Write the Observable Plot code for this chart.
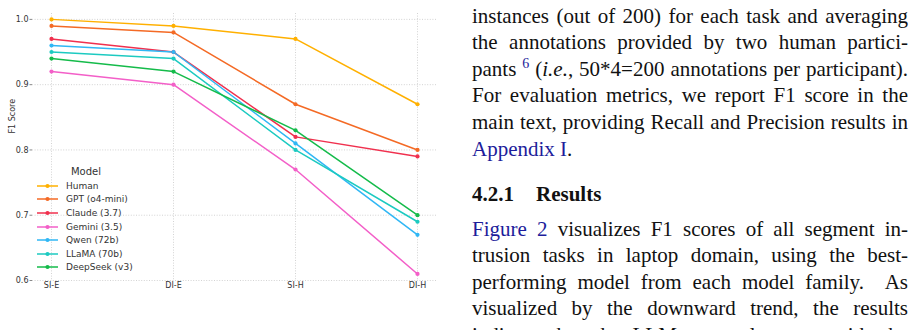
<!DOCTYPE html>
<html>
<head>
<meta charset="utf-8">
<script src="https://cdn.jsdelivr.net/npm/d3@7"></script>
<script src="https://cdn.jsdelivr.net/npm/@observablehq/plot@0.6"></script>
<style>
  html, body { margin: 0; padding: 0; background: #fff; }
  #page { position: relative; width: 917px; height: 330px; overflow: hidden; background: #fff; }
  #chart { position: absolute; left: 0; top: 0; }
  #legend { position: absolute; left: 36px; top: 165px; font-family: "DejaVu Sans", sans-serif; color: #333; }
  #legend .title { font-size: 10px; text-align: center; height: 14px; line-height: 14px; width: 100px; }
  #legend .row { display: flex; align-items: center; height: 13.6px; font-size: 9px; }
  #legend svg { margin-right: 7px; }
  .txt { position: absolute; left: 472px; width: 436px; font-family: "Liberation Serif", "Times New Roman", serif;
         font-size: 21px; line-height: 26.6px; color: #111; white-space: nowrap; }
  .just { text-align: justify; text-align-last: justify; white-space: normal; }
  .blue { color: #1d1d9b; }
  .sup { font-size: 14px; position: relative; top: -8px; }
  .head { font-weight: bold; }
</style>
</head>
<body>
<div id="page">
  <div id="chart"></div>
  <div id="legend"></div>

  <div class="txt just" style="top:2.6px">instances (out of 200) for each task and averaging</div>
  <div class="txt just" style="top:29.2px">the annotations provided by two human partici-</div>
  <div class="txt just" style="top:55.8px">pants <span class="sup blue">6</span> (<i>i.e.</i>, 50*4=200 annotations per participant).</div>
  <div class="txt just" style="top:82.4px">For evaluation metrics, we report F1 score in the</div>
  <div class="txt just" style="top:109px">main text, providing Recall and Precision results in</div>
  <div class="txt" style="top:135.6px"><span class="blue">Appendix I</span>.</div>

  <div class="txt head" style="top:181.3px">4.2.1<span style="display:inline-block;width:22px"></span>Results</div>

  <div class="txt just" style="top:215.6px"><span class="blue">Figure 2</span> visualizes F1 scores of all segment in-</div>
  <div class="txt just" style="top:242.2px">trusion tasks in laptop domain, using the best-</div>
  <div class="txt just" style="top:268.8px">performing model from each model family.&nbsp; As</div>
  <div class="txt just" style="top:295.4px">visualized by the downward trend, the results</div>
  <div class="txt just" style="top:322px">indicate that the LLMs struggle more with the</div>
</div>

<script>
// Segment-intrusion tasks along the x axis
const tasks = ["SI-E", "DI-E", "SI-H", "DI-H"];

// Model families (legend order) and their colours
const models = ["Human", "GPT (o4-mini)", "Claude (3.7)", "Gemini (3.5)", "Qwen (72b)", "LLaMA (70b)", "DeepSeek (v3)"];
const colors = ["#ffb000", "#f46a25", "#f0304e", "#f35fc8", "#30b7f5", "#1ccac1", "#14bb4a"];

// F1 score per task, one array per model
const human    = [1.00, 0.99, 0.97, 0.87];
const gpt      = [0.99, 0.98, 0.87, 0.80];
const claude   = [0.97, 0.95, 0.82, 0.79];
const gemini   = [0.92, 0.90, 0.77, 0.61];
const qwen     = [0.96, 0.95, 0.81, 0.67];
const llama    = [0.95, 0.94, 0.80, 0.69];
const deepseek = [0.94, 0.92, 0.83, 0.70];

const yTicks = [0.6, 0.7, 0.8, 0.9, 1.0];
const yLabel = "F1 Score";

const series = [human, gpt, claude, gemini, qwen, llama, deepseek];
const rows = models.flatMap((m, i) => series[i].map((v, j) => ({model: m, task: tasks[j], f1: v})));

const gridStyle = {stroke: "#c8c8c8", strokeOpacity: 1, strokeWidth: 0.8, strokeDasharray: "1,1.6"};

const chart = Plot.plot({
  width: 445,
  height: 330,
  marginLeft: 32,
  marginTop: 13,
  marginBottom: 50,
  marginRight: 9,
  style: {fontFamily: "DejaVu Sans, sans-serif", fontSize: "8px", color: "#333", background: "transparent"},
  x: {type: "point", domain: tasks, padding: 0.147},
  y: {domain: [0.6, 1.009]},
  color: {domain: models, range: colors},
  marks: [
    Plot.gridX(tasks, gridStyle),
    Plot.gridY(yTicks, gridStyle),
    Plot.axisY(yTicks, {tickFormat: d => d.toFixed(1), tickSize: 2.5, tickPadding: 1.5, stroke: "#888", fill: "#333", label: null}),
    Plot.axisY([], {label: null, line: true, stroke: "#888", strokeWidth: 1.2, tickSize: 0}),
    // y-axis title, rotated, sitting a little above the frame's middle
    Plot.text([yLabel], {frameAnchor: "left", rotate: -90, dx: -20.5, dy: -13.5, fill: "#333", fontSize: 8}),
    Plot.axisX({tickSize: 0, tickPadding: 2, label: null, line: true, stroke: "#888", strokeWidth: 1.2, fill: "#333"}),
    Plot.line(rows, {x: "task", y: "f1", z: "model", stroke: "model", strokeWidth: 1.5}),
    Plot.dot(rows, {x: "task", y: "f1", fill: "model", r: 2.1})
  ]
});
document.getElementById("chart").appendChild(chart);

// Legend with line-and-marker swatches
const legend = d3.select("#legend");
legend.append("div").attr("class", "title").text("Model");
models.forEach((m, i) => {
  const row = legend.append("div").attr("class", "row");
  const sw = row.append("svg").attr("width", 23).attr("height", 8);
  sw.append("line").attr("x1", 1).attr("x2", 22).attr("y1", 4).attr("y2", 4)
    .attr("stroke", colors[i]).attr("stroke-width", 1.5);
  sw.append("circle").attr("cx", 11.5).attr("cy", 4).attr("r", 2.1).attr("fill", colors[i]);
  row.append("span").text(m);
});
</script>
</body>
</html>
